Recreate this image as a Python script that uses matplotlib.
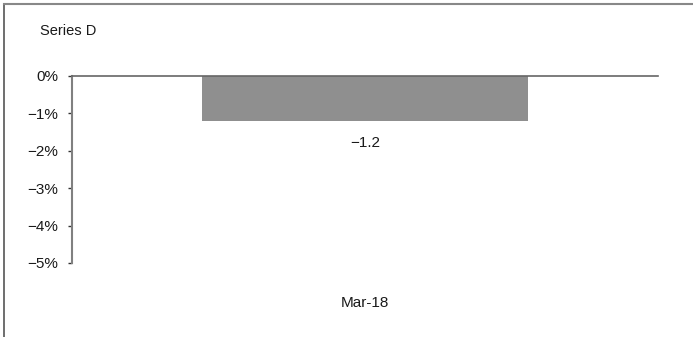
import matplotlib
matplotlib.use('Agg')
import matplotlib.pyplot as plt
from matplotlib.lines import Line2D

plt.rcParams['font.family'] = ['Liberation Sans Narrow', 'Liberation Sans', 'DejaVu Sans']

categories = ['Mar-18']
values = [-1.2]
value_labels = ['\u22121.2']
y_ticks = [0, -1, -2, -3, -4, -5]
y_tick_labels = ['0%', '\u22121%', '\u22122%', '\u22123%', '\u22124%', '\u22125%']
series_name = 'Series D'

fig = plt.figure(figsize=(6.93, 3.37), dpi=100)
ax = fig.add_axes([0.1039, 0.2196, 0.8456, 0.5549])

ax.bar([0], values, width=0.558, color='#8f8f8f', zorder=2)
ax.set_xlim(-0.5, 0.5)
ax.set_ylim(-5, 0)

ax.set_yticks(y_ticks)
ax.set_yticklabels(y_tick_labels, fontsize=11, color='#1a1a1a')
ax.set_xticks([0])
ax.set_xticklabels(categories, fontsize=11, color='#1a1a1a')
ax.tick_params(axis='x', length=0, pad=24)
ax.tick_params(axis='y', length=3, width=1, color='#333333', pad=7)

for side in ['right', 'bottom']:
    ax.spines[side].set_visible(False)
ax.spines['left'].set_color('#808080')
ax.spines['left'].set_linewidth(1.5)
ax.spines['top'].set_color('#666666')
ax.spines['top'].set_linewidth(1.2)

for i, v in enumerate(values):
    ax.annotate(value_labels[i], (i, v), xytext=(0, -11), textcoords='offset points',
                ha='center', va='top', fontsize=11, color='#1a1a1a')

fig.text(40 / 693, 1 - 31 / 337, series_name, fontsize=10.5, color='#1a1a1a', va='center')

# frame lines on top and left of the image
fig.add_artist(Line2D([4 / 693, 4 / 693], [0, 1 - 4 / 337], transform=fig.transFigure,
                      color='#555555', lw=1.2))
fig.add_artist(Line2D([4 / 693, 1], [1 - 4 / 337, 1 - 4 / 337], transform=fig.transFigure,
                      color='#888888', lw=1.5))

fig.savefig('out.png', dpi=100)
